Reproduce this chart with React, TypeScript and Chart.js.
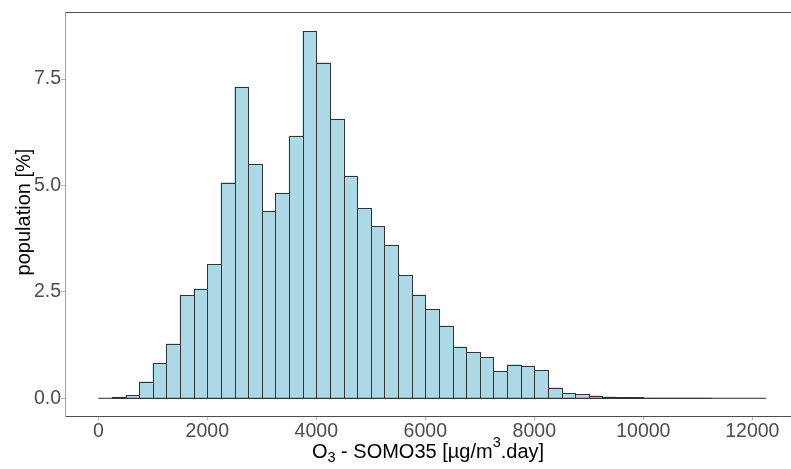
import React, { useEffect, useRef } from 'react';
import { Chart, registerables } from 'chart.js';

Chart.register(...registerables);

// Histogram bins (left edges, µg/m³.day), bin width 250
const binWidth = 250;
const binStarts = [
  0, 250, 500, 750, 1000, 1250, 1500, 1750, 2000, 2250,
  2500, 2750, 3000, 3250, 3500, 3750, 4000, 4250, 4500, 4750,
  5000, 5250, 5500, 5750, 6000, 6250, 6500, 6750, 7000, 7250,
  7500, 7750, 8000, 8250, 8500, 8750, 9000, 9250, 9500, 9750,
  10000, 10250, 10500, 10750, 11000, 11250, 11500, 11750, 12000,
];
// population share per bin [%]
const population = [
  0, 0.03, 0.07, 0.39, 0.82, 1.28, 2.42, 2.57, 3.15, 5.07,
  7.31, 5.5, 4.4, 4.82, 6.16, 8.62, 7.89, 6.56, 5.22, 4.46,
  4.04, 3.6, 2.89, 2.43, 2.09, 1.7, 1.21, 1.08, 0.96, 0.63,
  0.79, 0.76, 0.66, 0.25, 0.12, 0.09, 0.06, 0.04, 0.02, 0.02,
  0.01, 0.01, 0.01, 0.01, 0.01, 0, 0, 0, 0,
];
const xTicks = [0, 2000, 4000, 6000, 8000, 10000, 12000];
const yTicks = [0, 2.5, 5, 7.5];
const yTitle = 'population [%]';

const FONT = "'Liberation Sans', Arial, sans-serif";
const TICK_SIZE = 19.5;
const TITLE_SIZE = 20;

export default function App() {
  const ref = useRef<HTMLCanvasElement>(null);

  useEffect(() => {
    const canvas = ref.current;
    if (!canvas) return;

    const outlinePlugin = {
      id: 'outline',
      afterDatasetsDraw(chart: any) {
        const { ctx } = chart;
        const meta = chart.getDatasetMeta(0);
        ctx.save();
        ctx.strokeStyle = '#333333';
        ctx.lineWidth = 1;
        meta.data.forEach((el: any) => {
          const p = el.getProps(['x', 'y', 'base', 'width'], true);
          if (Math.abs(p.base - p.y) < 0.05) return;
          const l = Math.round(p.x - p.width / 2) + 0.5;
          const r = Math.round(p.x + p.width / 2) + 0.5;
          const t = Math.round(p.y) + 0.5;
          const b = Math.round(p.base) + 0.5;
          ctx.strokeRect(l, t, r - l, b - t);
        });
        ctx.restore();
      },
    };

    const framePlugin = {
      id: 'frame',
      afterDraw(chart: any) {
        const { ctx, chartArea: a } = chart;
        ctx.save();
        ctx.lineWidth = 1;
        ctx.strokeStyle = '#4d4d4d';
        ctx.beginPath();
        ctx.moveTo(a.left, a.top + 0.5);
        ctx.lineTo(a.right, a.top + 0.5);
        ctx.moveTo(a.left, a.bottom + 0.5);
        ctx.lineTo(a.right, a.bottom + 0.5);
        ctx.stroke();
        ctx.strokeStyle = '#a0a0a0';
        ctx.beginPath();
        ctx.moveTo(a.left + 0.5, a.top);
        ctx.lineTo(a.left + 0.5, a.bottom + 1);
        ctx.stroke();

        // y axis title
        ctx.fillStyle = '#000000';
        ctx.font = `${TITLE_SIZE}px ${FONT}`;
        ctx.save();
        ctx.translate(24.5, (a.top + a.bottom) / 2 - 2);
        ctx.rotate(-Math.PI / 2);
        ctx.textAlign = 'center';
        ctx.textBaseline = 'middle';
        ctx.fillText(yTitle, 0, 0);
        ctx.restore();

        // x axis title: O3 - SOMO35 [µg/m3.day]
        const main = `${TITLE_SIZE}px ${FONT}`;
        const small = `14.5px ${FONT}`;
        const parts: [string, string, number][] = [
          ['O', main, 0],
          ['3', small, 4],
          [' - SOMO35 [µg/m', main, 0],
          ['3', small, -11],
          ['.day]', main, 0],
        ];
        let total = 0;
        parts.forEach(([s, f]) => {
          ctx.font = f;
          total += ctx.measureText(s).width;
        });
        let x = (a.left + a.right) / 2 - total / 2;
        const baseY = 458;
        ctx.textAlign = 'left';
        ctx.textBaseline = 'alphabetic';
        parts.forEach(([s, f, dy]) => {
          ctx.font = f;
          ctx.fillText(s, x, baseY + dy);
          x += ctx.measureText(s).width;
        });
        ctx.restore();
      },
    };

    const chart = new Chart(canvas, {
      type: 'bar',
      data: {
        datasets: [
          {
            type: 'bar',
            data: binStarts.map((s, i) => ({ x: s + binWidth / 2, y: population[i] })),
            backgroundColor: '#ADD8E6',
            borderWidth: 0,
            barPercentage: 1,
            categoryPercentage: 1,
            order: 2,
          } as any,
          {
            type: 'line',
            data: [
              { x: binStarts[0], y: 0 },
              { x: binStarts[binStarts.length - 1] + binWidth, y: 0 },
            ],
            borderColor: '#333333',
            borderWidth: 1,
            pointRadius: 0,
            order: 1,
          } as any,
        ],
      },
      options: {
        responsive: false,
        animation: false,
        events: [],
        layout: { padding: { top: 12, left: 0, right: 0, bottom: 0 } },
        plugins: { legend: { display: false }, tooltip: { enabled: false } },
        scales: {
          x: {
            type: 'linear',
            offset: false,
            min: -611,
            max: 12710,
            afterBuildTicks: (s: any) => {
              s.ticks = xTicks.map((v) => ({ value: v }));
            },
            afterFit: (s: any) => {
              s.height = 53;
            },
            border: { display: false },
            grid: {
              offset: false,
              drawOnChartArea: false,
              drawTicks: true,
              tickLength: 4,
              color: '#b3b3b3',
            },
            ticks: {
              color: '#4d4d4d',
              font: { family: FONT, size: TICK_SIZE },
              padding: 0,
              maxRotation: 0,
              autoSkip: false,
              callback: (v: any) => String(v),
            },
          },
          y: {
            type: 'linear',
            min: -0.416,
            max: 9.077,
            afterBuildTicks: (s: any) => {
              s.ticks = yTicks.map((v) => ({ value: v }));
            },
            afterFit: (s: any) => {
              s.width = 65;
            },
            border: { display: false },
            grid: {
              drawOnChartArea: false,
              drawTicks: true,
              tickLength: 4,
              color: '#b3b3b3',
            },
            ticks: {
              color: '#4d4d4d',
              font: { family: FONT, size: TICK_SIZE },
              padding: 0,
              autoSkip: false,
              callback: (v: any) => Number(v).toFixed(1),
            },
          },
        },
      },
      plugins: [outlinePlugin, framePlugin],
    });

    return () => chart.destroy();
  }, []);

  return (
    <div style={{ position: 'fixed', left: 0, top: 0, width: 791, height: 469, background: '#ffffff' }}>
      <canvas ref={ref} width={791} height={469} style={{ display: 'block', width: 791, height: 469 }} />
    </div>
  );
}
